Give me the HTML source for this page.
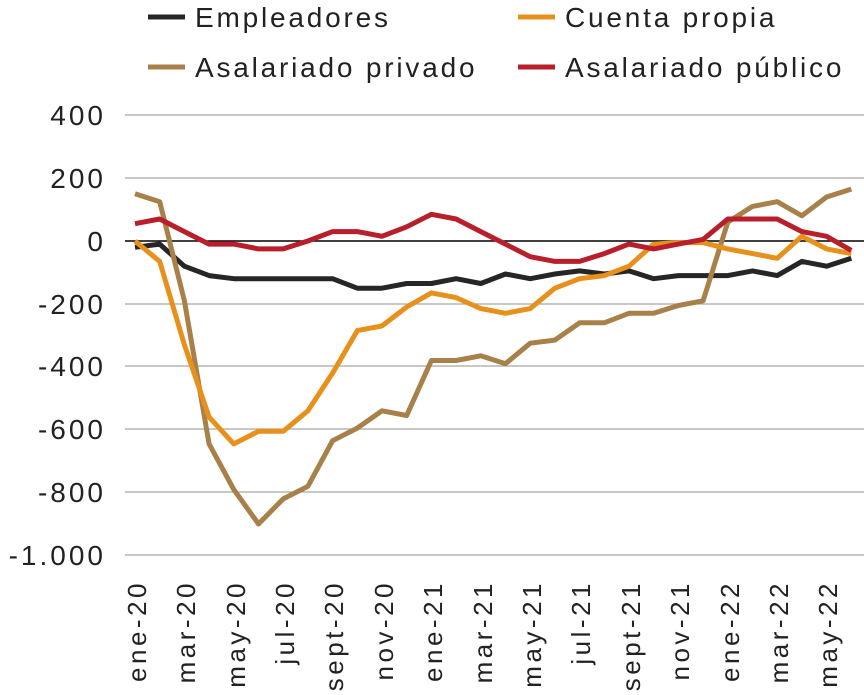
<!DOCTYPE html>
<html><head><meta charset="utf-8"><style>body{margin:0;background:#fff}svg{display:block}text{font-family:"Liberation Sans",sans-serif;fill:#222}</style></head>
<body>
<svg width="864" height="695" viewBox="0 0 864 695" xmlns="http://www.w3.org/2000/svg">
<g stroke="#a6a6a6" stroke-width="1.3">
<line x1="125" x2="864" y1="115" y2="115"/><line x1="125" x2="864" y1="178" y2="178"/>
<line x1="125" x2="864" y1="304" y2="304"/><line x1="125" x2="864" y1="366" y2="366"/>
<line x1="125" x2="864" y1="429" y2="429"/><line x1="125" x2="864" y1="492" y2="492"/>
<line x1="125" x2="864" y1="555" y2="555"/>
</g>
<line x1="125" x2="864" y1="241" y2="241" stroke="#000" stroke-width="1.5"/>
<g font-size="28" text-anchor="end" letter-spacing="3">
<text x="106" y="125">400</text><text x="106" y="188">200</text><text x="106" y="251">0</text>
<text x="106" y="314">-200</text><text x="106" y="376">-400</text><text x="106" y="439">-600</text>
<text x="106" y="502">-800</text><text x="106" y="565">-1.000</text>
</g>
<g font-size="26" text-anchor="end" letter-spacing="3.5">
<text transform="translate(146,580) rotate(-90)">ene-20</text>
<text transform="translate(195,580) rotate(-90)">mar-20</text>
<text transform="translate(245,580) rotate(-90)">may-20</text>
<text transform="translate(294,580) rotate(-90)">jul-20</text>
<text transform="translate(343,580) rotate(-90)">sept-20</text>
<text transform="translate(393,580) rotate(-90)">nov-20</text>
<text transform="translate(442,580) rotate(-90)">ene-21</text>
<text transform="translate(492,580) rotate(-90)">mar-21</text>
<text transform="translate(541,580) rotate(-90)">may-21</text>
<text transform="translate(590,580) rotate(-90)">jul-21</text>
<text transform="translate(640,580) rotate(-90)">sept-21</text>
<text transform="translate(689,580) rotate(-90)">nov-21</text>
<text transform="translate(739,580) rotate(-90)">ene-22</text>
<text transform="translate(788,580) rotate(-90)">mar-22</text>
<text transform="translate(837,580) rotate(-90)">may-22</text>
</g>
<g fill="none" stroke-width="5" stroke-linejoin="round" id="lines"></g>
<g font-size="28" letter-spacing="2.8">
<line x1="148" x2="185" y1="17" y2="17" stroke="#262626" stroke-width="5"/><text x="195" y="27">Empleadores</text>
<line x1="518" x2="555" y1="17" y2="17" stroke="#e8901c" stroke-width="5"/><text x="565" y="27">Cuenta propia</text>
<line x1="148" x2="185" y1="67" y2="67" stroke="#a8804a" stroke-width="5"/><text x="195" y="77">Asalariado privado</text>
<line x1="518" x2="555" y1="67" y2="67" stroke="#b81f2a" stroke-width="5"/><text x="565" y="77">Asalariado público</text>
</g>
</svg>
<script>
const S={
"#262626":[-20,-10,-80,-110,-120,-120,-120,-120,-120,-150,-150,-135,-135,-120,-135,-105,-120,-105,-95,-105,-95,-120,-110,-110,-110,-95,-110,-65,-80,-55],
"#a8804a":[150,125,-190,-645,-790,-900,-820,-780,-635,-595,-540,-555,-380,-380,-365,-390,-325,-315,-260,-260,-230,-230,-205,-190,60,110,125,80,140,165],
"#e8901c":[0,-65,-330,-560,-645,-605,-605,-540,-420,-285,-270,-210,-165,-180,-215,-230,-215,-150,-120,-110,-80,-10,-5,-5,-25,-40,-55,15,-25,-40],
"#b81f2a":[55,70,30,-10,-10,-25,-25,0,30,30,15,45,85,70,30,-10,-50,-65,-65,-40,-10,-25,-10,5,70,70,70,30,15,-30]};
const g=document.getElementById('lines');
for(const c in S){const p=document.createElementNS('http://www.w3.org/2000/svg','polyline');
p.setAttribute('points',S[c].map((v,i)=>(135+i*24.7).toFixed(1)+','+(241-v*62.9/200).toFixed(1)).join(' '));
p.setAttribute('stroke',c);g.appendChild(p);}
</script>
</body></html>
